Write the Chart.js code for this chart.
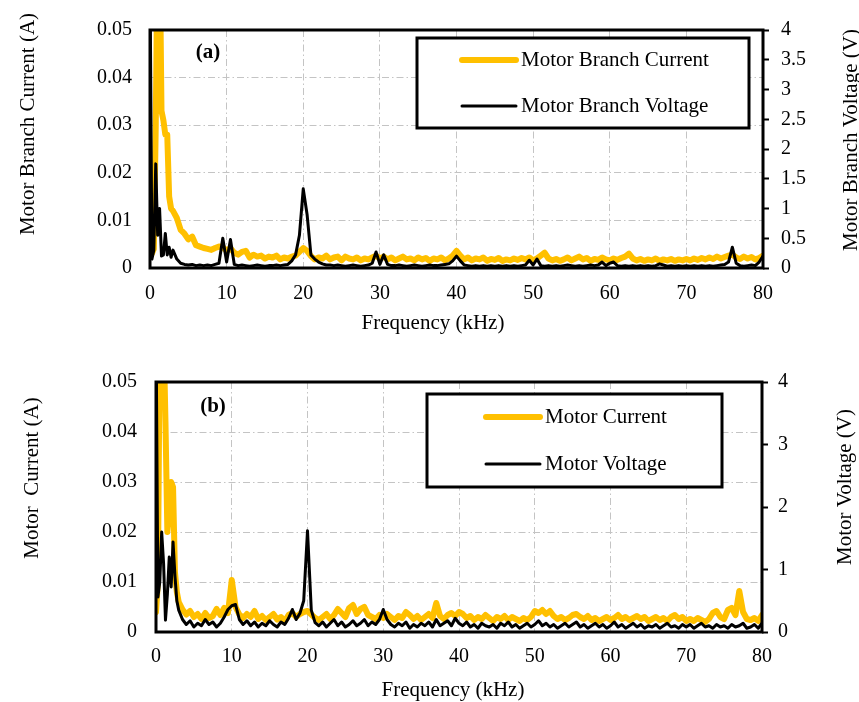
<!DOCTYPE html>
<html>
<head>
<meta charset="utf-8">
<script src="https://cdn.jsdelivr.net/npm/chart.js@4.4.1/dist/chart.umd.min.js"></script>
<style>
  html, body { margin: 0; padding: 0; background: #fff; }
  .panel { position: absolute; left: 0; width: 859px; height: 351px; }
  canvas { display: block; }
</style>
</head>
<body>
<div class="panel" style="top:0"><canvas id="chartA" width="859" height="351"></canvas></div>
<div class="panel" style="top:351px"><canvas id="chartB" width="859" height="351"></canvas></div>
<script>
// frequency points (kHz), finer below 3 kHz
const freq = [
  0, 0.25, 0.5, 0.75, 1, 1.25, 1.5, 1.75, 2, 2.25, 2.5, 2.75, 3,
  3.5, 4, 4.5, 5, 5.5, 6, 6.5, 7, 7.5, 8, 8.5, 9, 9.5, 10,
  10.5, 11, 11.5, 12, 12.5, 13, 13.5, 14, 14.5, 15, 15.5, 16, 16.5, 17, 17.5, 18, 18.5, 19, 19.5, 20,
  20.5, 21, 21.5, 22, 22.5, 23, 23.5, 24, 24.5, 25, 25.5, 26, 26.5, 27, 27.5, 28, 28.5, 29, 29.5, 30,
  30.5, 31, 31.5, 32, 32.5, 33, 33.5, 34, 34.5, 35, 35.5, 36, 36.5, 37, 37.5, 38, 38.5, 39, 39.5, 40,
  40.5, 41, 41.5, 42, 42.5, 43, 43.5, 44, 44.5, 45, 45.5, 46, 46.5, 47, 47.5, 48, 48.5, 49, 49.5, 50,
  50.5, 51, 51.5, 52, 52.5, 53, 53.5, 54, 54.5, 55, 55.5, 56, 56.5, 57, 57.5, 58, 58.5, 59, 59.5, 60,
  60.5, 61, 61.5, 62, 62.5, 63, 63.5, 64, 64.5, 65, 65.5, 66, 66.5, 67, 67.5, 68, 68.5, 69, 69.5, 70,
  70.5, 71, 71.5, 72, 72.5, 73, 73.5, 74, 74.5, 75, 75.5, 76, 76.5, 77, 77.5, 78, 78.5, 79, 79.5, 80
];

// (a) motor branch current (A)
const branchCurrent = [
  0.003, 0.003, 0.004, 0.03, 0.07, 0.07, 0.033, 0.031, 0.028, 0.028, 0.015, 0.0125, 0.012,
  0.0105, 0.008, 0.0072, 0.006, 0.0066, 0.0048, 0.0045, 0.0042, 0.004, 0.0038, 0.0042, 0.0045, 0.0044, 0.0036,
  0.0042, 0.0032, 0.0028, 0.0034, 0.0036, 0.0022, 0.0028, 0.0024, 0.0026, 0.002, 0.0024, 0.0022, 0.0026, 0.0018, 0.0022, 0.002, 0.0024, 0.0026, 0.0034, 0.0042,
  0.0036, 0.0025, 0.0018, 0.0022, 0.002, 0.0026, 0.0018, 0.0022, 0.0024, 0.0016, 0.0024, 0.002, 0.0018, 0.0022, 0.0016, 0.002, 0.0018, 0.0022, 0.0026, 0.002,
  0.0024, 0.0018, 0.0022, 0.0016, 0.002, 0.0024, 0.0018, 0.002, 0.0016, 0.0022, 0.0018, 0.0021, 0.0015, 0.002, 0.0018, 0.0022, 0.0016, 0.002, 0.0026, 0.0036,
  0.0026, 0.0018, 0.0022, 0.0016, 0.002, 0.0018, 0.0022, 0.0015, 0.0019, 0.0017, 0.0021, 0.0015, 0.0018, 0.0016, 0.002, 0.0017, 0.0021, 0.0018, 0.0022, 0.0016,
  0.002, 0.0026, 0.0032, 0.002, 0.0016, 0.0019, 0.0015, 0.0018, 0.0022, 0.0016, 0.002, 0.0024, 0.0018, 0.0021, 0.0015, 0.0019, 0.0017, 0.0022, 0.0018, 0.0016,
  0.002, 0.0017, 0.0021, 0.0024, 0.003, 0.002, 0.0016, 0.0019, 0.0015, 0.0018, 0.0016, 0.002, 0.0015, 0.0018, 0.0016, 0.0019, 0.0015, 0.0018, 0.0016, 0.0019,
  0.0016, 0.002, 0.0017, 0.0021, 0.0018, 0.0022, 0.0019, 0.0024, 0.002, 0.0023, 0.0026, 0.0028, 0.0022, 0.0019, 0.0024, 0.002, 0.0023, 0.0018, 0.0021, 0.0026
];

// (a) motor branch voltage (V)
const branchVoltage = [
  5, 0.15, 0.3, 1.75, 0.55, 1.0, 0.2, 0.22, 0.58, 0.22, 0.35, 0.18, 0.3,
  0.15, 0.08, 0.06, 0.05, 0.06, 0.04, 0.05, 0.04, 0.05, 0.04, 0.06, 0.08, 0.5, 0.1,
  0.48, 0.06, 0.04, 0.05, 0.04, 0.03, 0.04, 0.05, 0.04, 0.03, 0.04, 0.04, 0.05, 0.04, 0.05, 0.06, 0.12, 0.22, 0.55, 1.33,
  0.9, 0.22, 0.15, 0.1, 0.07, 0.05, 0.05, 0.04, 0.05, 0.04, 0.03, 0.04, 0.05, 0.04, 0.03, 0.04, 0.05, 0.08, 0.27, 0.06,
  0.22, 0.06, 0.04, 0.04, 0.05, 0.04, 0.03, 0.04, 0.05, 0.04, 0.03, 0.04, 0.05, 0.04, 0.04, 0.05, 0.06, 0.07, 0.12, 0.2,
  0.12, 0.05, 0.04, 0.03, 0.04, 0.03, 0.04, 0.03, 0.04, 0.03, 0.04, 0.03, 0.04, 0.03, 0.04, 0.03, 0.04, 0.05, 0.13, 0.05,
  0.15, 0.04, 0.03, 0.04, 0.03, 0.04, 0.03, 0.04, 0.05, 0.04, 0.03, 0.04, 0.03, 0.04, 0.05, 0.04, 0.05, 0.1, 0.04, 0.08,
  0.1, 0.04, 0.03, 0.04, 0.03, 0.04, 0.03, 0.04, 0.03, 0.04, 0.03, 0.04, 0.07, 0.05, 0.03, 0.04, 0.03, 0.04, 0.03, 0.04,
  0.03, 0.04, 0.03, 0.04, 0.03, 0.04, 0.03, 0.04, 0.05, 0.06, 0.1, 0.35, 0.08, 0.04, 0.03, 0.04, 0.05, 0.04, 0.1, 0.2
];

// (b) motor current (A)
const motorCurrent = [
  0.004, 0.01, 0.06, 0.06, 0.06, 0.042, 0.02, 0.024, 0.03, 0.029, 0.012, 0.008, 0.006,
  0.0045, 0.0035, 0.0042, 0.003, 0.0036, 0.0026, 0.0038, 0.0028, 0.0032, 0.0046, 0.0034, 0.0048, 0.0038, 0.0104,
  0.005, 0.0035, 0.0028, 0.0036, 0.003, 0.0042, 0.0026, 0.0032, 0.0024, 0.003, 0.0036, 0.0025, 0.003, 0.0022, 0.0034, 0.0038, 0.003, 0.0036, 0.004, 0.0042,
  0.0035, 0.0028, 0.0024, 0.003, 0.0036, 0.0026, 0.0034, 0.0046, 0.0038, 0.003, 0.0048, 0.0054, 0.0036, 0.0046, 0.005, 0.0034, 0.003, 0.0026, 0.0034, 0.0028,
  0.0036, 0.003, 0.0024, 0.0032, 0.0028, 0.004, 0.0034, 0.0026, 0.0032, 0.0024, 0.003, 0.0036, 0.0028, 0.0058, 0.0032, 0.0026, 0.0034, 0.0038, 0.0032, 0.004,
  0.0036, 0.0028, 0.0032, 0.0024, 0.003, 0.0026, 0.0034, 0.0028, 0.0022, 0.003, 0.0026, 0.0032, 0.0024, 0.003, 0.0026, 0.0022, 0.0028, 0.0024, 0.003, 0.0042,
  0.0038, 0.0044, 0.0036, 0.0042, 0.0032, 0.0026, 0.003, 0.0024, 0.0028, 0.0034, 0.0036, 0.003, 0.0026, 0.0032, 0.0024, 0.0028, 0.0022, 0.0026, 0.003, 0.0024,
  0.0028, 0.0034, 0.0026, 0.003, 0.0024, 0.0028, 0.0032, 0.0026, 0.003, 0.0022, 0.0026, 0.003, 0.0024, 0.0028, 0.0022, 0.003, 0.0034, 0.0026, 0.003, 0.0022,
  0.0026, 0.0022, 0.0028, 0.0024, 0.002, 0.0026, 0.0038, 0.0042, 0.003, 0.0026, 0.0044, 0.0048, 0.0034, 0.0082, 0.004, 0.0026, 0.0024, 0.0028, 0.0022, 0.0034
];

// (b) motor voltage (V)
const motorVoltage = [
  5, 0.56, 0.8, 1.6, 1.1, 0.19, 0.6, 1.2, 0.72, 1.44, 0.9, 0.5, 0.35,
  0.2, 0.12, 0.18, 0.08, 0.14, 0.1, 0.2, 0.12, 0.16, 0.08, 0.14, 0.24, 0.36, 0.42,
  0.44, 0.2, 0.12, 0.18, 0.1, 0.16, 0.08, 0.14, 0.1, 0.18, 0.12, 0.08, 0.16, 0.12, 0.22, 0.36, 0.2, 0.3, 0.5, 1.62,
  0.35, 0.15, 0.1, 0.16, 0.08, 0.14, 0.2, 0.1, 0.16, 0.08, 0.12, 0.18, 0.1, 0.14, 0.2, 0.1, 0.16, 0.12, 0.2, 0.36,
  0.2, 0.12, 0.08, 0.14, 0.1, 0.16, 0.06, 0.12, 0.08, 0.14, 0.1, 0.16, 0.08, 0.2, 0.1, 0.14, 0.18, 0.1, 0.22, 0.14,
  0.1, 0.16, 0.08, 0.12, 0.06, 0.14, 0.1, 0.08, 0.12, 0.06, 0.14, 0.1, 0.16, 0.08, 0.12, 0.06, 0.1, 0.14, 0.08, 0.12,
  0.18, 0.1, 0.14, 0.08, 0.12, 0.06, 0.1, 0.14, 0.08, 0.12, 0.16, 0.08, 0.12, 0.06, 0.1, 0.14, 0.08, 0.12, 0.06, 0.1,
  0.16, 0.08, 0.12, 0.06, 0.1, 0.14, 0.08, 0.12, 0.06, 0.1, 0.08, 0.12, 0.06, 0.1, 0.14, 0.08, 0.1, 0.06, 0.12, 0.08,
  0.12, 0.06, 0.1, 0.14, 0.08, 0.1, 0.06, 0.12, 0.08, 0.1, 0.06, 0.12, 0.08, 0.1, 0.14, 0.06, 0.08, 0.12, 0.06, 0.14
];

// tick labels
const freqTicks = [0, 10, 20, 30, 40, 50, 60, 70, 80];
const currentTicks = [0, 0.01, 0.02, 0.03, 0.04, 0.05];
const branchVoltTicks = [0, 0.5, 1, 1.5, 2, 2.5, 3, 3.5, 4];
const motorVoltTicks = [0, 1, 2, 3, 4];

const SERIF = '"Liberation Serif", "Times New Roman", serif';
const GOLD = '#FFC000';
const GRID = '#c4c4c4';
const DASHDOT = [7, 3, 1.5, 3];

// frame, boxed legend and free text (axis titles, panel letter)
const panelDecor = {
  id: 'panelDecor',
  afterDatasetsDraw(chart, args, opts) {
    const { ctx, chartArea: a } = chart;
    ctx.save();
    ctx.lineWidth = 3;
    ctx.strokeStyle = '#000';
    ctx.strokeRect(a.left, a.top, a.right - a.left, a.bottom - a.top);

    const L = opts.legend;
    ctx.fillStyle = '#fff';
    ctx.fillRect(L.box[0], L.box[1], L.box[2] - L.box[0], L.box[3] - L.box[1]);
    ctx.lineWidth = 3;
    ctx.strokeStyle = '#000';
    ctx.strokeRect(L.box[0], L.box[1], L.box[2] - L.box[0], L.box[3] - L.box[1]);
    ctx.font = '21px ' + SERIF;
    ctx.textAlign = 'left';
    ctx.textBaseline = 'middle';
    chart.data.datasets.forEach((ds, i) => {
      const y = L.rows[i];
      ctx.beginPath();
      ctx.lineWidth = ds.borderWidth;
      ctx.strokeStyle = ds.borderColor;
      ctx.lineCap = 'round';
      ctx.moveTo(L.sample[0], y);
      ctx.lineTo(L.sample[1], y);
      ctx.stroke();
      ctx.fillStyle = '#000';
      ctx.fillText(ds.label, L.textX, y);
    });

    opts.texts.forEach(t => {
      ctx.save();
      ctx.translate(t.x, t.y);
      if (t.rot) ctx.rotate(t.rot * Math.PI / 180);
      ctx.font = (t.bold ? 'bold ' : '') + '21px ' + SERIF;
      ctx.fillStyle = '#000';
      ctx.textAlign = 'center';
      ctx.textBaseline = 'middle';
      ctx.fillText(t.text, 0, 0);
      ctx.restore();
    });
    ctx.restore();
  }
};

function points(ys) {
  return freq.map((f, i) => ({ x: f, y: ys[i] }));
}

function makePanel(id, p) {
  const tickFont = { family: SERIF, size: 20 };
  return new Chart(document.getElementById(id), {
    type: 'line',
    data: {
      datasets: [
        { label: p.currentLabel, data: points(p.current), borderColor: GOLD, borderWidth: 6, yAxisID: 'y', order: 2 },
        { label: p.voltageLabel, data: points(p.voltage), borderColor: '#000', borderWidth: 3, yAxisID: 'y2', order: 1 }
      ]
    },
    options: {
      responsive: false,
      animation: false,
      layout: { padding: { top: p.padTop, left: 0, right: 0, bottom: 0 } },
      elements: {
        point: { radius: 0 },
        line: { tension: 0, borderJoinStyle: 'round', borderCapStyle: 'round' }
      },
      plugins: {
        legend: { display: false },
        tooltip: { enabled: false },
        panelDecor: { legend: p.legend, texts: p.texts }
      },
      scales: {
        x: {
          type: 'linear',
          min: 0,
          max: 80,
          afterBuildTicks: s => { s.ticks = freqTicks.map(v => ({ value: v })); },
          afterFit: s => { s.height = p.xHeight; },
          ticks: { font: tickFont, color: '#000', padding: p.xPad, maxRotation: 0, autoSkip: false, callback: v => String(v) },
          grid: { color: GRID, lineWidth: 1, drawTicks: false },
          border: { display: false, dash: DASHDOT }
        },
        y: {
          position: 'left',
          min: 0,
          max: 0.05,
          afterBuildTicks: s => { s.ticks = currentTicks.map(v => ({ value: v })); },
          afterFit: s => { s.width = p.leftWidth; },
          ticks: { font: tickFont, color: '#000', padding: p.leftPad, callback: v => String(v) },
          grid: { color: GRID, lineWidth: 1, drawTicks: false },
          border: { display: false, dash: DASHDOT }
        },
        y2: {
          position: 'right',
          min: 0,
          max: 4,
          afterBuildTicks: s => { s.ticks = p.voltTicks.map(v => ({ value: v })); },
          afterFit: s => { s.width = p.rightWidth; },
          ticks: { font: tickFont, color: '#000', padding: p.rightPad, callback: v => String(v) },
          grid: { drawOnChartArea: false, drawTicks: true, tickLength: 6, tickColor: '#000', tickWidth: 2 },
          border: { display: false }
        }
      }
    },
    plugins: [panelDecor]
  });
}

makePanel('chartA', {
  current: branchCurrent,
  voltage: branchVoltage,
  currentLabel: 'Motor Branch Current',
  voltageLabel: 'Motor Branch Voltage',
  voltTicks: branchVoltTicks,
  padTop: 28, leftWidth: 150, rightWidth: 96, xHeight: 83,
  leftPad: 18, rightPad: 12, xPad: 14,
  legend: { box: [417, 38, 749, 128], sample: [462, 516], textX: 521, rows: [60, 106] },
  texts: [
    { text: 'Motor Branch Current (A)', x: 28, y: 124, rot: -90 },
    { text: 'Motor Branch Voltage (V)', x: 851, y: 140, rot: -90 },
    { text: 'Frequency (kHz)', x: 433, y: 323 },
    { text: '(a)', x: 208, y: 53, bold: true }
  ]
});

makePanel('chartB', {
  current: motorCurrent,
  voltage: motorVoltage,
  currentLabel: 'Motor Current',
  voltageLabel: 'Motor Voltage',
  voltTicks: motorVoltTicks,
  padTop: 31, leftWidth: 156, rightWidth: 97, xHeight: 70,
  leftPad: 19, rightPad: 10, xPad: 13,
  legend: { box: [427, 43, 722, 136], sample: [486, 540], textX: 545, rows: [66, 113] },
  texts: [
    { text: 'Motor  Current (A)', x: 32, y: 127, rot: -90 },
    { text: 'Motor Voltage (V)', x: 845, y: 136, rot: -90 },
    { text: 'Frequency (kHz)', x: 453, y: 339 },
    { text: '(b)', x: 213, y: 56, bold: true }
  ]
});
</script>
</body>
</html>
